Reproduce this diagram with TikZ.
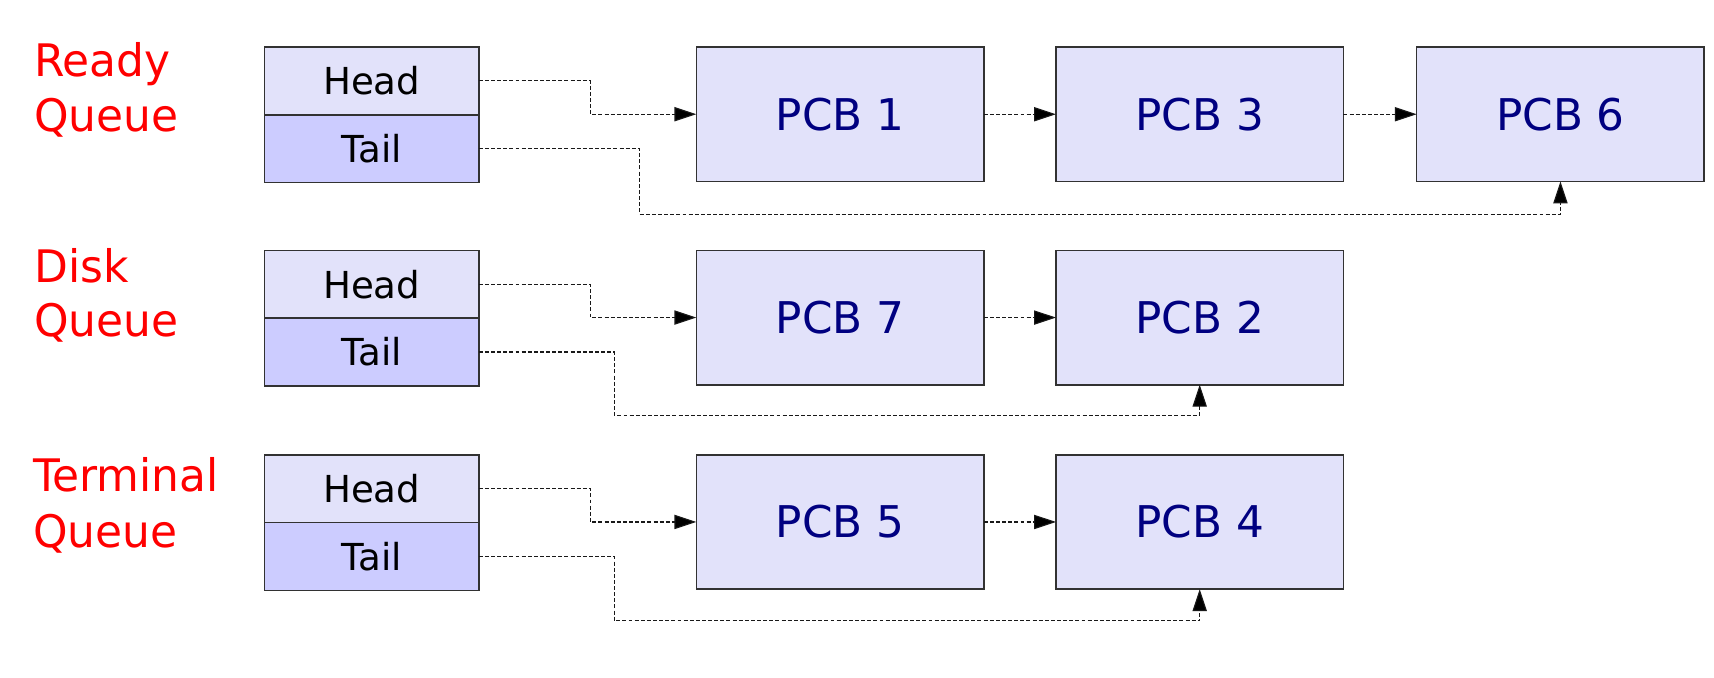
\documentclass[tikz,border=0pt]{standalone}
\usepackage{fontspec}
\setmainfont{DejaVu Sans}
\newfontfamily\qfont[FakeStretch=0.98]{DejaVu Sans}
\usetikzlibrary{arrows.meta}
\definecolor{headfill}{RGB}{226,226,250}
\definecolor{tailfill}{RGB}{204,204,255}
\definecolor{pcbfill}{RGB}{226,226,250}
\definecolor{pcbtext}{RGB}{0,0,128}
\definecolor{qred}{RGB}{255,0,0}
\definecolor{edge}{RGB}{50,50,50}
\begin{document}
\begin{tikzpicture}[x=0.5pt,y=-0.5pt,
  cell/.style={draw=edge, line width=0.7pt, minimum width=98pt, minimum height=31pt,
    inner sep=0pt, outer sep=0pt, anchor=north west, font=\fontsize{17}{19}\selectfont},
  headcell/.style={cell, fill=headfill},
  tailcell/.style={cell, fill=tailfill},
  pcb/.style={draw=edge, line width=0.7pt, fill=pcbfill, text=pcbtext,
    minimum width=131.5pt, minimum height=61.5pt, inner sep=0pt, outer sep=0pt,
    anchor=north west, font=\fontsize{20}{23}\selectfont},
  qlabel/.style={text=qred, inner sep=0pt, anchor=base west,
    font=\qfont\fontsize{20.5}{24}\selectfont},
  conn/.style={draw=black!90, line width=0.5pt, dash pattern=on 1.8pt off 1pt,
    -{Triangle[length=10pt,width=6.5pt,fill=black]}}
]
\useasboundingbox (0,0) rectangle (1568,620);

% labels
\node[qlabel] (lr1) at (31,70) {Ready};
\node[qlabel] (lr2) at (31,120.5) {Queue};
\node[qlabel] (ld1) at (31,258) {Disk};
\node[qlabel] (ld2) at (31,307.5) {Queue};
\node[qlabel] (lt1) at (30,450) {Terminal};
\node[qlabel] (lt2) at (30,501) {Queue};

% queue head/tail cells
\node[headcell] (h1) at (242,43) {Head};
\node[tailcell] (t1) at (242,105) {Tail};
\node[headcell] (h2) at (242,229) {Head};
\node[tailcell] (t2) at (242,291) {Tail};
\node[headcell] (h3) at (242,416) {Head};
\node[tailcell] (t3) at (242,478) {Tail};

% PCBs
\node[pcb] (p1) at (637,43) {PCB 1};
\node[pcb] (p3) at (966,43) {PCB 3};
\node[pcb] (p6) at (1296,43) {PCB 6};
\node[pcb] (p7) at (637,229) {PCB 7};
\node[pcb] (p2) at (966,229) {PCB 2};
\node[pcb] (p5) at (637,416) {PCB 5};
\node[pcb] (p4) at (966,416) {PCB 4};

% ready queue
\draw[conn] (h1.east) -- ++(51pt,0) |- (p1.west);
\draw[conn] (p1) -- (p3);
\draw[conn] (p3) -- (p6);
\draw[conn] (t1.east) -- ++(73.5pt,0) |- ([yshift=-15pt]p6.south) -- (p6.south);

% disk queue
\draw[conn] (h2.east) -- ++(51pt,0) |- (p7.west);
\draw[conn] (p7) -- (p2);
\draw[conn] (t2.east) -- ++(62pt,0) |- ([yshift=-14pt]p2.south) -- (p2.south);

% terminal queue
\draw[conn] (h3.east) -- ++(51pt,0) |- (p5.west);
\draw[conn] (p5) -- (p4);
\draw[conn] (t3.east) -- ++(62pt,0) |- ([yshift=-14.5pt]p4.south) -- (p4.south);
\end{tikzpicture}
\end{document}
